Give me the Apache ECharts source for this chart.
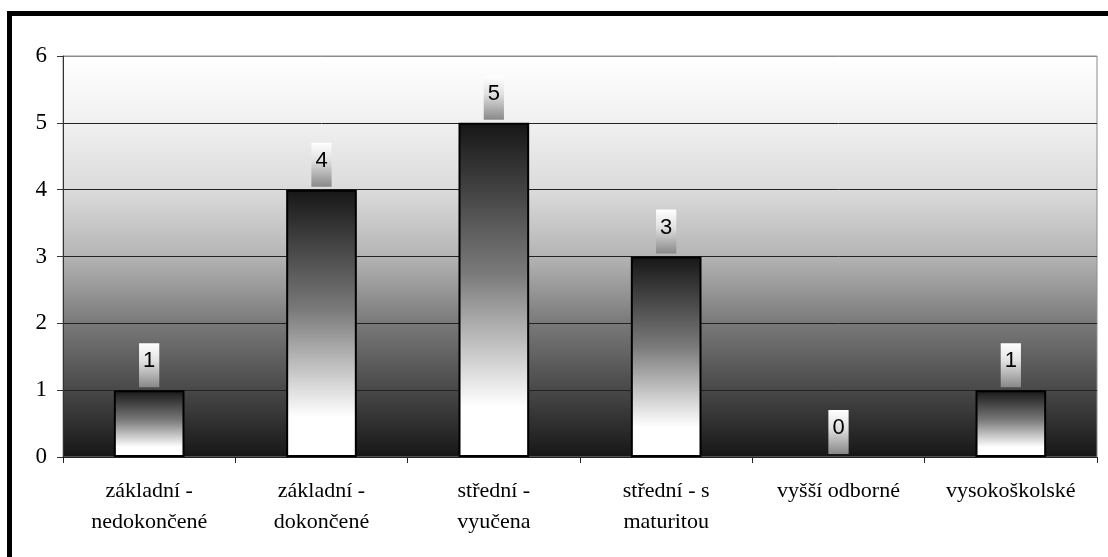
<!DOCTYPE html>
<html>
<head>
<meta charset="utf-8">
<script src="https://cdn.jsdelivr.net/npm/echarts@6/dist/echarts.min.js"></script>
<style>
  html, body { margin: 0; padding: 0; background: #fff; }
  #chart { width: 1108px; height: 557px; }
</style>
</head>
<body>
<div id="chart"></div>
<script>
// Education level categories and respondent counts
const categories = [
  'základní -\nnedokončené',
  'základní -\ndokončené',
  'střední -\nvyučena',
  'střední - s\nmaturitou',
  'vyšší odborné',
  'vysokoškolské'
];
const counts = [1, 4, 5, 3, 0, 1];
const yTicks = { min: 0, max: 6, interval: 1 };

const G = echarts.graphic.LinearGradient;

// Zero-height bars get no outline so only their value label shows
const barData = counts.map(v => (v === 0 ? { value: v, itemStyle: { borderWidth: 0 } } : v));

const chart = echarts.init(document.getElementById('chart'), null, { renderer: 'canvas' });

chart.setOption({
  animation: false,
  backgroundColor: '#ffffff',
  grid: {
    left: 63, top: 56, right: 11, bottom: 100,
    show: true,
    borderColor: '#8c8c8c',
    borderWidth: 1,
    backgroundColor: new G(0, 0, 0, 1, [
      { offset: 0, color: '#ffffff' },
      { offset: 0.17, color: '#f0f0f0' },
      { offset: 0.34, color: '#dadada' },
      { offset: 0.5, color: '#b4b4b4' },
      { offset: 0.67, color: '#787878' },
      { offset: 0.84, color: '#464646' },
      { offset: 1, color: '#161616' }
    ])
  },
  graphic: [{
    type: 'rect',
    silent: true,
    z: 100,
    shape: { x: 9.5, y: 13.5, width: 1200, height: 1000 },
    style: { fill: 'none', stroke: '#000', lineWidth: 5 }
  }],
  xAxis: {
    type: 'category',
    data: categories,
    axisLine: { show: true, lineStyle: { color: '#222', width: 1 } },
    axisTick: { show: true, alignWithLabel: false, length: 6, lineStyle: { color: '#222' } },
    axisLabel: {
      interval: 0,
      margin: 19,
      fontFamily: '"Liberation Serif", "Times New Roman", serif',
      fontSize: 22,
      lineHeight: 31,
      color: '#000'
    },
    splitLine: { show: false }
  },
  yAxis: {
    type: 'value',
    min: yTicks.min,
    max: yTicks.max,
    interval: yTicks.interval,
    axisLine: { show: true, lineStyle: { color: '#333', width: 1 } },
    axisTick: { show: true, length: 6, lineStyle: { color: '#333' } },
    axisLabel: {
      margin: 16,
      fontFamily: '"Liberation Serif", "Times New Roman", serif',
      fontSize: 23,
      color: '#000'
    },
    splitLine: {
      show: true,
      lineStyle: { color: ['#222', '#222', '#222', '#222', '#222', '#222', '#8c8c8c'], width: 1 }
    }
  },
  series: [{
    type: 'bar',
    data: barData,
    barWidth: '41%',
    itemStyle: {
      borderColor: '#000',
      borderWidth: 2,
      color: new G(0, 0, 0, 1, [
        { offset: 0, color: '#161616' },
        { offset: 0.45, color: '#7a7a7a' },
        { offset: 0.85, color: '#ffffff' },
        { offset: 1, color: '#ffffff' }
      ])
    },
    label: {
      show: true,
      position: 'top',
      distance: 3,
      fontFamily: '"Liberation Sans", Arial, sans-serif',
      fontSize: 22,
      lineHeight: 22,
      color: '#000',
      padding: [7, 4, 15, 4],
      backgroundColor: new G(0, 0, 0, 1, [
        { offset: 0, color: '#ffffff' },
        { offset: 0.4, color: '#e2e2e2' },
        { offset: 1, color: '#888888' }
      ])
    }
  }]
});
</script>
</body>
</html>
